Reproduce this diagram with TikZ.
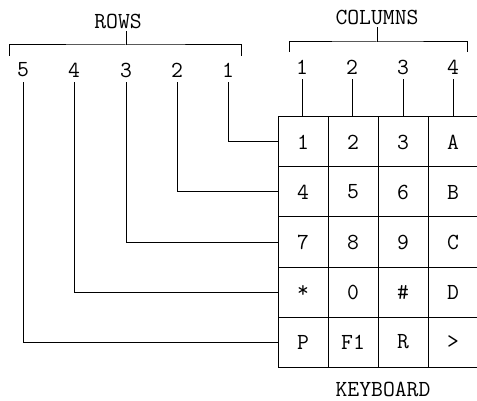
\documentclass[tikz,border=0pt]{standalone}
\usepackage{fontspec}
\usetikzlibrary{positioning, calc}

\begin{document}
\begin{tikzpicture}[
    x=1pt, y=-1pt,
    font=\ttfamily\fontsize{23}{27}\selectfont,
    key/.style={draw, line width=1pt, minimum width=50pt,
                minimum height=50pt, inner sep=0pt},
    lbl/.style={inner sep=1pt, outer sep=4pt},
    wire/.style={line width=1pt}
  ]
  \useasboundingbox (0,0) rectangle (477,401);

  % keyboard matrix
  \foreach \row/\keys in {1/{1,2,3,A}, 2/{4,5,6,B}, 3/{7,8,9,C},
                          4/{*,0,\#,D}, 5/{P,F1,R,>}}
    \foreach \k [count=\col] in \keys
      \node[key] (k-\row-\col) at ({253+50*\col}, {92+50*\row}) {\k};
  \node[inner sep=1pt] (kbd) at (383,389) {KEYBOARD};

  % row lines
  \foreach \r/\x in {1/228, 2/177, 3/126, 4/74, 5/23} {
    \node[lbl] (r\r) at (\x,70) {\r};
    \draw[wire] (r\r.south) |- (k-\r-1.west);
  }

  % column lines
  \foreach \c/\x in {1/302, 2/352, 3/403, 4/453} {
    \node[lbl] (c\c) at (\x,67) {\c};
    \draw[wire] (c\c.south) -- (c\c.south |- k-1-\c.north);
  }

  % brackets
  \node[inner sep=2pt] (rows) at (118,21) {ROWS};
  \coordinate (rowsL) at (9,56);
  \coordinate (rowsR) at (241,56);
  \coordinate (rowsT) at (126,45);
  \draw[wire] (rowsL) |- (rowsT) -| (rowsR);
  \draw[wire] (rowsT) -- (rowsT |- rows.south);

  \node[inner sep=2pt] (cols) at (377,17) {COLUMNS};
  \coordinate (colsL) at (289,52);
  \coordinate (colsR) at (467,52);
  \coordinate (colsT) at (377,42);
  \draw[wire] (colsL) |- (colsT) -| (colsR);
  \draw[wire] (colsT) -- (cols.south);

\end{tikzpicture}
\end{document}
